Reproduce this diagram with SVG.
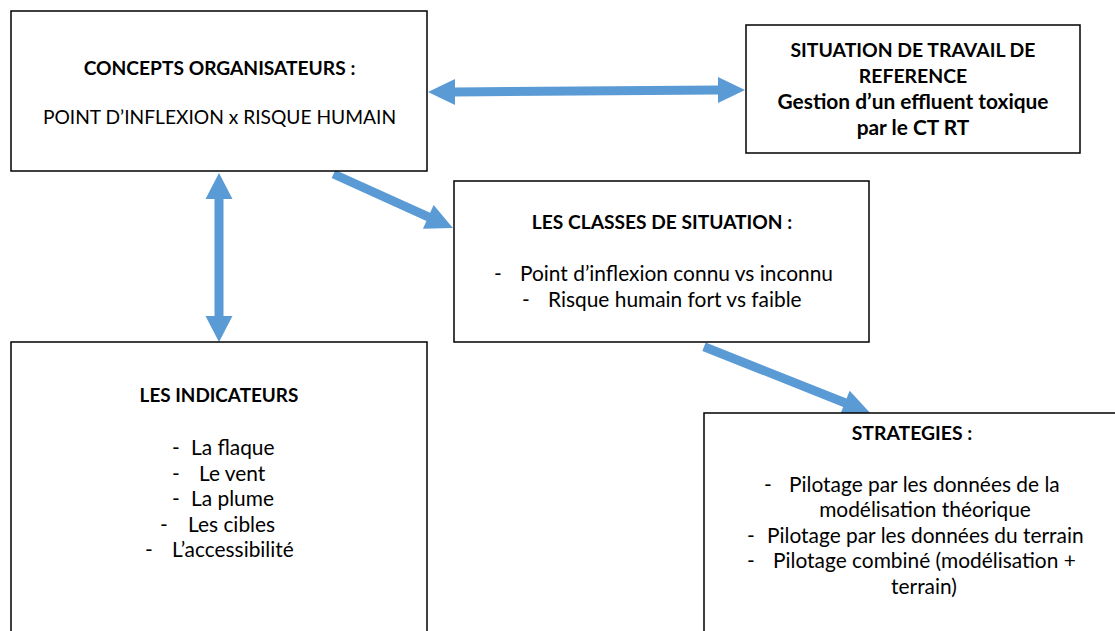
<svg xmlns="http://www.w3.org/2000/svg" width="1115" height="631" viewBox="0 0 1115 631">
<style>
.box{fill:#fff;stroke:#000;stroke-width:1.5}
.arr{fill:#5B9BD5}
text{font-family:Lato,"Open Sans","Liberation Sans",sans-serif;font-size:20.9px;fill:#000}
.b{font-weight:bold}
.c{text-anchor:middle}
.cap{font-size:19.2px}
</style>
<rect width="1115" height="631" fill="#fff"/>
<g id="connectors">
<polygon class="arr" points="428,92 455,79 455,87.5 718,85.5 718,77 745,90 718,103 718,94.5 455,96.5 455,105"/>
<polygon class="arr" points="219,173 232.5,199 223.5,199 223.5,316 232.5,316 219,342 205.5,316 214.5,316 214.5,199 205.5,199"/>
<polygon class="arr" transform="translate(333.5,174) rotate(24.3)" points="0,-4.5 104,-4.5 104,-13 131,0 104,13 104,4.5 0,4.5"/>
<polygon class="arr" transform="translate(704,346.7) rotate(21.7)" points="0,-4.5 151.6,-4.5 151.6,-13 178.6,0 151.6,13 151.6,4.5 0,4.5"/>
</g>
<g id="concepts">
<rect class="box" x="11" y="11" width="416" height="160"/>
<text class="b c cap" x="219.5" y="75">CONCEPTS ORGANISATEURS :</text>
<text class="c cap" x="219.5" y="124">POINT D’INFLEXION x RISQUE HUMAIN</text>
</g>
<g id="situation">
<rect class="box" x="746" y="25" width="334" height="128"/>
<text class="b c cap" x="913" y="57" style="font-size:19.4px">SITUATION DE TRAVAIL DE</text>
<text class="b c cap" x="913" y="83" style="font-size:19.4px">REFERENCE</text>
<text class="b c" x="913" y="109">Gestion d’un effluent toxique</text>
<text class="b c" x="913" y="135">par le CT RT</text>
</g>
<g id="classes">
<rect class="box" x="454" y="181" width="415" height="161"/>
<text class="b c cap" x="662" y="229">LES CLASSES DE SITUATION :</text>
<text x="494" y="281">-</text>
<text x="520" y="281">Point d’inflexion connu vs inconnu</text>
<text x="522" y="307">-</text>
<text x="548" y="307">Risque humain fort vs faible</text>
</g>
<g id="indicateurs">
<rect class="box" x="11" y="342" width="416" height="300"/>
<text class="b c cap" x="219" y="402" style="font-size:18.9px">LES INDICATEURS</text>
<text x="172" y="455">-</text>
<text x="191" y="455">La flaque</text>
<text x="172" y="481">-</text>
<text x="199" y="481">Le vent</text>
<text x="172" y="506">-</text>
<text x="191" y="506">La plume</text>
<text x="160" y="532">-</text>
<text x="188" y="532">Les cibles</text>
<text x="145" y="557">-</text>
<text x="172" y="557">L’accessibilité</text>
</g>
<g id="strategies">
<rect class="box" x="704" y="413" width="420" height="230"/>
<text class="b c cap" x="912" y="440" style="font-size:19.4px">STRATEGIES :</text>
<text x="764" y="492">-</text>
<text x="789" y="492">Pilotage par les données de la</text>
<text class="c" x="925" y="517">modélisation théorique</text>
<text x="747" y="543">-</text>
<text x="767" y="543">Pilotage par les données du terrain</text>
<text x="747" y="568">-</text>
<text x="773" y="568">Pilotage combiné (modélisation +</text>
<text class="c" x="924" y="594">terrain)</text>
</g>
</svg>
